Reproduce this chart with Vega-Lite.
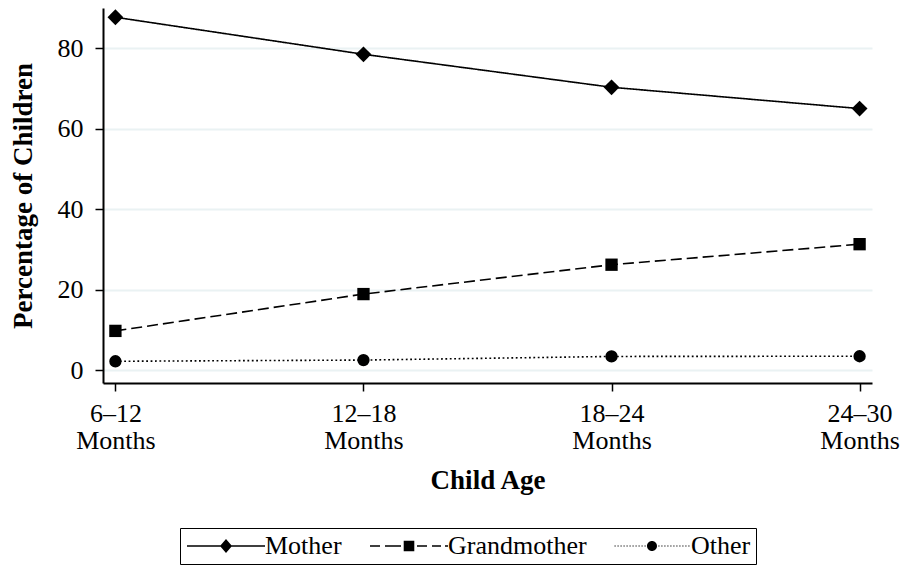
{
  "$schema": "https://vega.github.io/schema/vega-lite/v6.json",
  "width": 769,
  "height": 375,
  "autosize": {"type": "none"},
  "padding": {"left": 103, "top": 8, "right": 37, "bottom": 184},
  "background": "white",
  "config": {
    "font": "Liberation Serif",
    "view": {"stroke": null}
  },
  "data": {
    "values": [
      {"age": "6–12 Months", "series": "Mother", "pct": 87.7},
      {"age": "12–18 Months", "series": "Mother", "pct": 78.5},
      {"age": "18–24 Months", "series": "Mother", "pct": 70.3},
      {"age": "24–30 Months", "series": "Mother", "pct": 65.0},
      {"age": "6–12 Months", "series": "Grandmother", "pct": 9.75},
      {"age": "12–18 Months", "series": "Grandmother", "pct": 18.9},
      {"age": "18–24 Months", "series": "Grandmother", "pct": 26.2},
      {"age": "24–30 Months", "series": "Grandmother", "pct": 31.3},
      {"age": "6–12 Months", "series": "Other", "pct": 2.2},
      {"age": "12–18 Months", "series": "Other", "pct": 2.5},
      {"age": "18–24 Months", "series": "Other", "pct": 3.4},
      {"age": "24–30 Months", "series": "Other", "pct": 3.45}
    ]
  },
  "encoding": {
    "x": {
      "field": "age",
      "type": "ordinal",
      "sort": ["6–12 Months", "12–18 Months", "18–24 Months", "24–30 Months"],
      "scale": {"type": "point", "padding": 0.05},
      "axis": {
        "title": "Child Age",
        "titleFont": "Liberation Serif",
        "titleFontSize": 27,
        "titleFontWeight": "bold",
        "titleColor": "black",
        "titlePadding": 14,
        "labelExpr": "split(datum.label, ' ')",
        "labelFont": "Liberation Serif",
        "labelFontSize": 26,
        "labelColor": "black",
        "labelPadding": 9,
        "labelLineHeight": 27,
        "labelAngle": 0,
        "labelOverlap": false,
        "labelFlush": false,
        "tickSize": 8,
        "tickColor": "black",
        "tickWidth": 1.5,
        "domainColor": "black",
        "domainWidth": 2,
        "grid": false
      }
    },
    "y": {
      "field": "pct",
      "type": "quantitative",
      "scale": {"domain": [-3.2, 90], "nice": false, "zero": false},
      "axis": {
        "title": "Percentage of Children",
        "titleFont": "Liberation Serif",
        "titleFontSize": 27,
        "titleFontWeight": "bold",
        "titleColor": "black",
        "titlePadding": 20,
        "values": [0, 20, 40, 60, 80],
        "labelFont": "Liberation Serif",
        "labelFontSize": 26,
        "labelColor": "black",
        "labelPadding": 12,
        "tickSize": 8,
        "tickColor": "black",
        "tickWidth": 1.5,
        "domainColor": "black",
        "domainWidth": 2,
        "grid": true,
        "gridColor": "#EAF2F3",
        "gridWidth": 2
      }
    }
  },
  "resolve": {"scale": {"shape": "independent"}},
  "layer": [
    {
      "mark": {"type": "line", "color": "black", "strokeWidth": 1.6},
      "encoding": {
        "strokeDash": {
          "field": "series",
          "type": "nominal",
          "scale": {"range": [[11, 5], [1, 0], [1.8, 2.6]]},
          "legend": null
        }
      }
    },
    {
      "mark": {"type": "point", "filled": true, "opacity": 1, "color": "black", "size": 152},
      "encoding": {
        "shape": {
          "field": "series",
          "type": "nominal",
          "scale": {"range": ["square", "M-1.28,0L0,-1.28L1.28,0L0,1.28Z", "circle"]},
          "legend": null
        }
      }
    },
    {
      "transform": [{"filter": "datum.pct < -100"}],
      "mark": {"type": "point", "filled": true, "color": "black", "stroke": "black", "strokeWidth": 1.6},
      "encoding": {
        "shape": {
          "field": "series",
          "type": "nominal",
          "scale": {
            "domain": ["Mother", "Grandmother", "Other"],
            "range": [
              "M-1.1,-0.08H2.3V0.08H-1.1ZM3.3,-0.08H6.7V0.08H3.3ZM2.2,0L2.8,-0.7L3.4,0L2.8,0.7Z",
              "M-1.1,-0.08H-0.1V0.08H-1.1ZM0.4,-0.08H2.0V0.08H0.4ZM3.6,-0.08H4.6V0.08H3.6ZM5.1,-0.08H6.0V0.08H5.1ZM6.4,-0.08H6.7V0.08H6.4ZM2.27,-0.53H3.33V0.53H2.27Z",
              "M-0.95,-0.06h0.12v0.12h-0.12ZM-0.65,-0.06h0.12v0.12h-0.12ZM-0.35,-0.06h0.12v0.12h-0.12ZM-0.05,-0.06h0.12v0.12h-0.12ZM0.25,-0.06h0.12v0.12h-0.12ZM0.55,-0.06h0.12v0.12h-0.12ZM0.85,-0.06h0.12v0.12h-0.12ZM1.15,-0.06h0.12v0.12h-0.12ZM1.45,-0.06h0.12v0.12h-0.12ZM1.75,-0.06h0.12v0.12h-0.12ZM2.05,-0.06h0.12v0.12h-0.12ZM3.43,-0.06h0.12v0.12h-0.12ZM3.73,-0.06h0.12v0.12h-0.12ZM4.03,-0.06h0.12v0.12h-0.12ZM4.33,-0.06h0.12v0.12h-0.12ZM4.63,-0.06h0.12v0.12h-0.12ZM4.93,-0.06h0.12v0.12h-0.12ZM5.23,-0.06h0.12v0.12h-0.12ZM5.53,-0.06h0.12v0.12h-0.12ZM5.83,-0.06h0.12v0.12h-0.12ZM6.13,-0.06h0.12v0.12h-0.12ZM6.43,-0.06h0.12v0.12h-0.12ZM3.3,0A0.5,0.5,0,1,1,2.3,0A0.5,0.5,0,1,1,3.3,0Z"
            ]
          },
          "legend": {
            "orient": "none",
            "legendX": 77,
            "legendY": 520,
            "direction": "horizontal",
            "title": null,
            "strokeColor": "black",
            "padding": 5,
            "columnPadding": 24,
            "labelFont": "Liberation Serif",
            "labelFontSize": 26,
            "labelColor": "black",
            "labelOffset": 54,
            "symbolSize": 400,
            "symbolStrokeWidth": 1.6,
            "symbolStrokeColor": "black",
            "symbolFillColor": "black",
            "symbolOpacity": 1
          }
        }
      }
    }
  ]
}
